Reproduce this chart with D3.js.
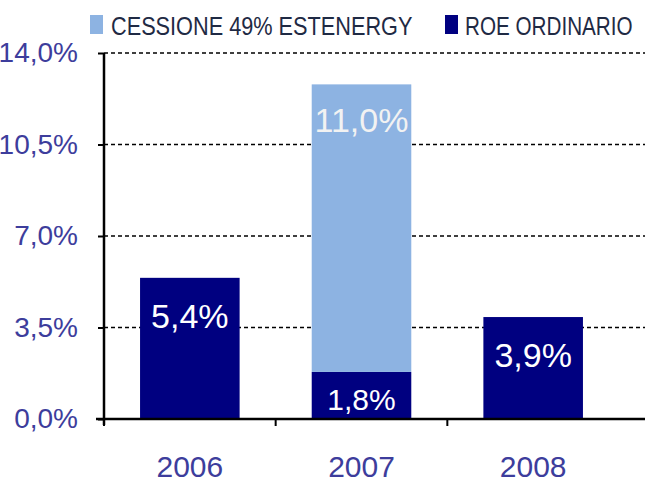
<!DOCTYPE html>
<html>
<head>
<meta charset="utf-8">
<script src="https://cdn.jsdelivr.net/npm/d3@7"></script>
<style>
  body { margin: 0; background: #fff; }
  svg { display: block; }
</style>
</head>
<body>
<svg id="chart"></svg>
<script>
// chart data
var years = ["2006", "2007", "2008"];
var roeOrdinario = [5.4, 1.8, 3.9];
var cessione = [0, 11.0, 0];
var yTicks = [0, 3.5, 7.0, 10.5, 14.0];
var seriesNames = ["CESSIONE 49% ESTENERGY", "ROE ORDINARIO"];

var screen = {width: 645, height: 482};
var margins = {top: 53, bottom: 63, left: 104, right: 26};
var labelBlue = "#3d3d9c";
var dark = "#000080";
var light = "#8db3e2";

var svg = d3.select("#chart")
    .attr("width", screen.width)
    .attr("height", screen.height);

var x = d3.scaleBand()
    .domain(years)
    .range([margins.left, screen.width - margins.right])
    .paddingInner(0.42)
    .paddingOuter(0.21);

var y = d3.scaleLinear()
    .domain([0, 14])
    .range([screen.height - margins.bottom, margins.top]);

var fmt = function(v) { return v.toFixed(1).replace(".", ",") + "%"; };

// dashed grid
svg.append("g")
    .selectAll("line")
    .data(yTicks.filter(function(d) { return d > 0; }))
    .enter()
    .append("line")
    .attr("x1", margins.left)
    .attr("x2", screen.width)
    .attr("y1", function(d) { return y(d); })
    .attr("y2", function(d) { return y(d); })
    .attr("stroke", "#000")
    .attr("stroke-width", 1.5)
    .attr("stroke-dasharray", "4,3");

// bars
var rows = years.map(function(yr, i) {
    return {year: yr, roe: roeOrdinario[i], ces: cessione[i]};
});

var bars = svg.append("g");
bars.selectAll(".roe")
    .data(rows)
    .enter()
    .append("rect")
    .attr("x", function(d) { return x(d.year); })
    .attr("width", x.bandwidth())
    .attr("y", function(d) { return y(d.roe); })
    .attr("height", function(d) { return y(0) - y(d.roe); })
    .attr("fill", dark);

bars.selectAll(".ces")
    .data(rows.filter(function(d) { return d.ces > 0; }))
    .enter()
    .append("rect")
    .attr("x", function(d) { return x(d.year); })
    .attr("width", x.bandwidth())
    .attr("y", function(d) { return y(d.roe + d.ces); })
    .attr("height", function(d) { return y(d.roe) - y(d.roe + d.ces); })
    .attr("fill", light);

// value labels
var labels = svg.append("g")
    .attr("font-family", "'Liberation Sans', Arial, sans-serif")
    .attr("text-anchor", "middle");

rows.forEach(function(d) {
    var top = y(d.roe);
    var small = (y(0) - top) < 60;
    labels.append("text")
        .attr("x", x(d.year) + x.bandwidth() / 2)
        .attr("y", Math.min(top + 50, y(0) - 9))
        .attr("font-size", small ? 30 : 34)
        .attr("fill", "#fff")
        .text(fmt(d.roe));
    if (d.ces > 0) {
        labels.append("text")
            .attr("x", x(d.year) + x.bandwidth() / 2)
            .attr("y", y(d.roe + d.ces) + 48)
            .attr("font-size", 34)
            .attr("fill", "#f2f2f2")
            .text(fmt(d.ces));
    }
});

// axes
var yAxis = svg.append("g")
    .attr("transform", "translate(" + margins.left + ",0)")
    .call(d3.axisLeft(y).tickValues(yTicks).tickSize(6).tickFormat(fmt));
yAxis.select(".domain").attr("stroke-width", 2.5).attr("d",
    "M0," + (y(0) + 6) + "V" + y(14));
yAxis.selectAll(".tick line").attr("stroke-width", 2);
yAxis.selectAll(".tick text")
    .attr("x", -26)
    .attr("font-size", 28)
    .attr("font-family", "'Liberation Sans', Arial, sans-serif")
    .attr("fill", labelBlue);

var bounds = [margins.left, x.step() + margins.left, 2 * x.step() + margins.left];
var xAxis = svg.append("g")
    .attr("transform", "translate(0," + y(0) + ")");
xAxis.append("line")
    .attr("x1", margins.left - 8)
    .attr("x2", screen.width)
    .attr("stroke", "#000")
    .attr("stroke-width", 2.5);
xAxis.selectAll(".sep")
    .data(bounds)
    .enter()
    .append("line")
    .attr("x1", function(d) { return d; })
    .attr("x2", function(d) { return d; })
    .attr("y1", 0)
    .attr("y2", 7)
    .attr("stroke", "#000")
    .attr("stroke-width", 2);
xAxis.selectAll(".yr")
    .data(years)
    .enter()
    .append("text")
    .attr("x", function(d) { return x(d) + x.bandwidth() / 2; })
    .attr("y", 58)
    .attr("text-anchor", "middle")
    .attr("font-size", 30)
    .attr("font-family", "'Liberation Sans', Arial, sans-serif")
    .attr("fill", labelBlue)
    .text(function(d) { return d; });

// legend (text squeezed horizontally like the condensed original font)
var legend = svg.append("g")
    .attr("font-family", "'Liberation Sans', Arial, sans-serif");
var legendItems = [
    {name: seriesNames[0], color: light, sx: 90, tx: 111, sc: 0.835},
    {name: seriesNames[1], color: dark, sx: 445, tx: 465, sc: 0.795}
];
legendItems.forEach(function(it) {
    legend.append("rect")
        .attr("x", it.sx).attr("y", 15)
        .attr("width", 13).attr("height", 19)
        .attr("fill", it.color);
    legend.append("text")
        .attr("transform", "translate(" + it.tx + ",35) scale(" + it.sc + ",1)")
        .attr("font-size", 26)
        .attr("fill", "#1f2a44")
        .text(it.name);
});
</script>
</body>
</html>
